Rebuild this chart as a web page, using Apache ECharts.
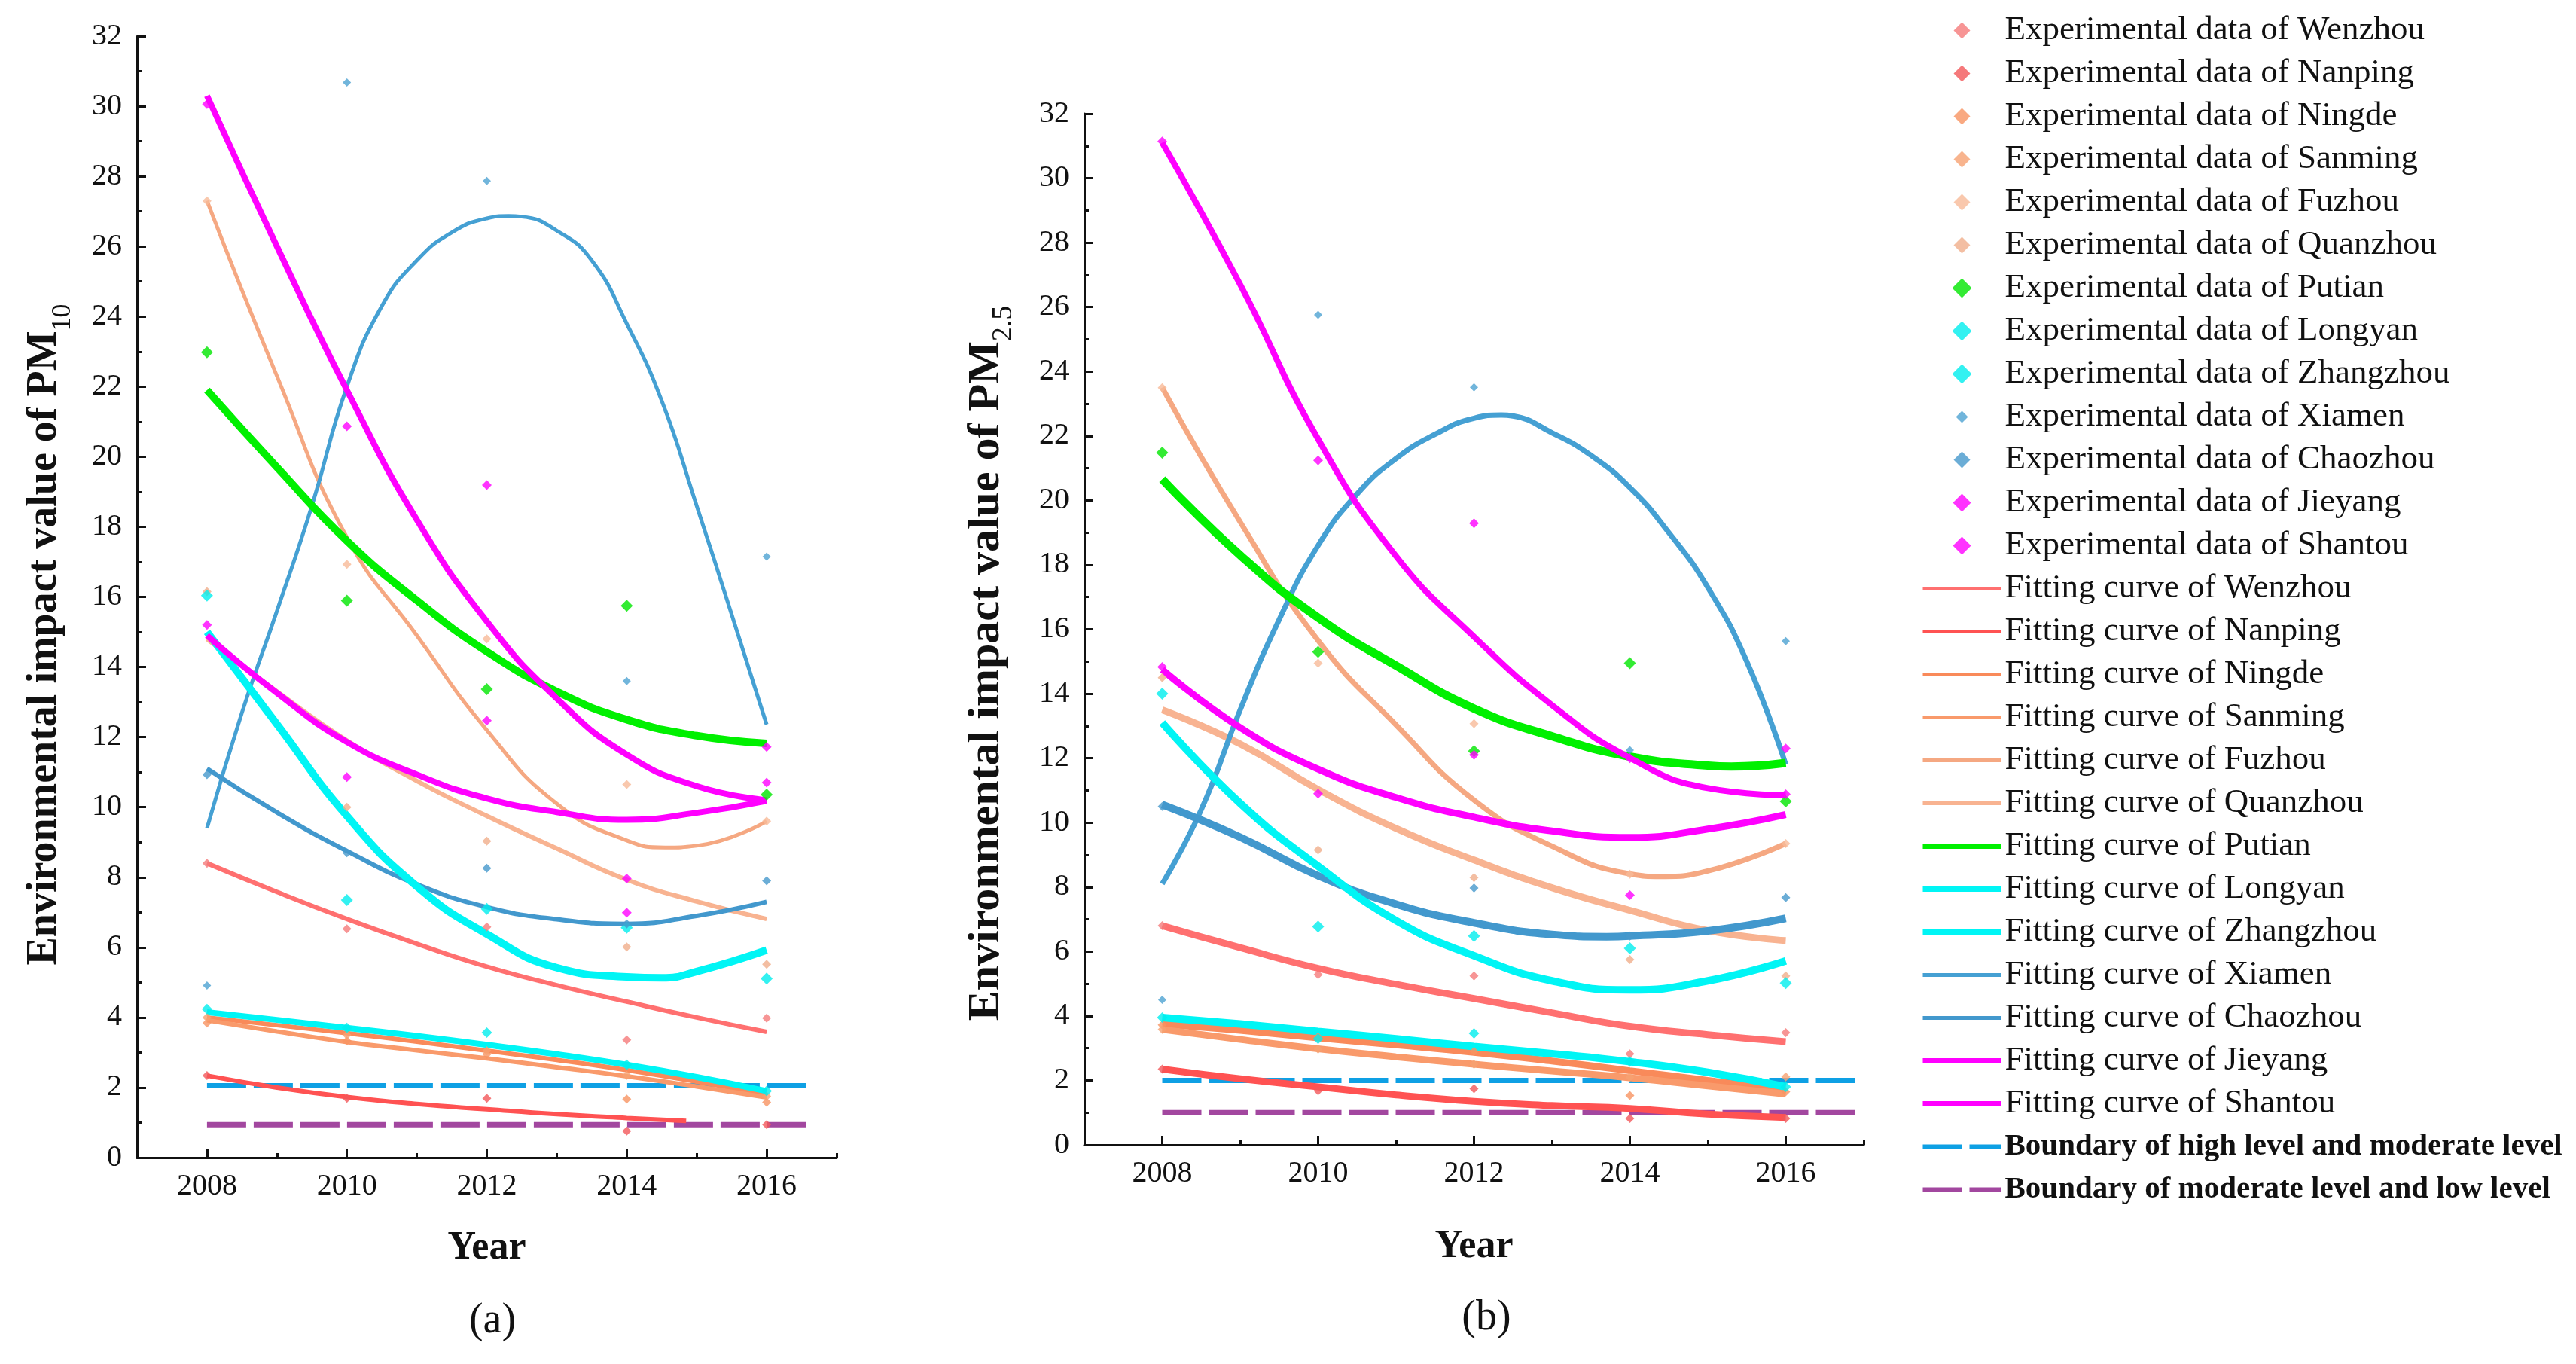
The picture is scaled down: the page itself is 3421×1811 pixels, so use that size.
<!DOCTYPE html>
<html>
<head>
<meta charset="utf-8">
<script src="https://cdn.jsdelivr.net/npm/echarts@6/dist/echarts.min.js"></script>
<style>
html,body{margin:0;padding:0;background:#ffffff;}
#c{width:3421px;height:1811px;}
</style>
</head>
<body>
<div id="c"></div>
<script>
// ---------------- DATA ----------------
const CITIES = ['Wenzhou','Nanping','Ningde','Sanming','Fuzhou','Quanzhou','Putian','Longyan','Zhangzhou','Xiamen','Chaozhou','Jieyang','Shantou'];
const EXP_YEARS = [2008, 2010, 2012, 2014, 2016];
const FIT_YEARS = [2008, 2009, 2010, 2011, 2012, 2013, 2014, 2015, 2016];
const X_TICKS = [2008, 2010, 2012, 2014, 2016];

// (a) PM10 experimental data (2008, 2010, 2012, 2014, 2016)
const pm10ExpWenzhou   = [8.4, 6.53, 6.58, 3.36, 3.98];
const pm10ExpNanping   = [2.34, 1.69, 1.69, 0.76, 0.94];
const pm10ExpNingde    = [3.84, 3.33, 2.95, 1.67, 1.58];
const pm10ExpSanming   = [4.0, 3.5, 3.05, 2.35, 1.75];
const pm10ExpFuzhou    = [27.3, 16.93, 14.8, 10.65, 9.6];
const pm10ExpQuanzhou  = [16.15, 10.0, 9.03, 6.01, 5.52];
const pm10ExpPutian    = [22.98, 15.89, 13.37, 15.75, 10.36];
const pm10ExpLongyan   = [16.04, 7.35, 7.1, 6.56, 5.11];
const pm10ExpZhangzhou = [4.24, 3.7, 3.57, 2.65, 1.9];
const pm10ExpXiamen    = [4.91, 30.68, 27.87, 13.6, 17.15];
const pm10ExpChaozhou  = [10.93, 8.7, 8.26, 6.67, 7.9];
const pm10ExpJieyang   = [30.06, 20.87, 19.19, 7.96, 11.72];
const pm10ExpShantou   = [15.2, 10.86, 12.47, 6.99, 10.7];

// (a) PM10 fitting curves (values at 2008..2016) + extra read points (turning points / ends)
const pm10FitWenzhou   = [8.4, 7.58, 6.81, 6.1, 5.45, 4.92, 4.45, 4.0, 3.59];
const pm10FitNanping   = [2.34, 2.0, 1.73, 1.53, 1.38, 1.24, 1.13, null, null];
const pm10FitNanpingExtra = [[2014.85, 1.05]];
const pm10FitNingde    = [4.0, 3.78, 3.55, 3.31, 3.05, 2.79, 2.5, 2.17, 1.8];
const pm10FitSanming   = [3.92, 3.6, 3.3, 3.06, 2.83, 2.58, 2.32, 2.03, 1.72];
const pm10FitFuzhou    = [27.3, 22.3, 17.7, 14.9, 12.2, 10.1, 9.05, 8.9, 9.6];
const pm10FitFuzhouExtra = [[2014.55, 8.85]];
const pm10FitQuanzhou  = [14.8, 13.3, 11.9, 10.75, 9.75, 8.82, 7.93, 7.31, 6.81];
const pm10FitPutian    = [21.9, 19.7, 17.6, 15.9, 14.44, 13.3, 12.5, 12.04, 11.82];
const pm10FitLongyan   = [15.0, 12.37, 9.75, 7.74, 6.38, 5.42, 5.16, 5.31, 5.92];
const pm10FitLongyanExtra = [[2014.5, 5.13]];
const pm10FitZhangzhou = [4.15, 3.93, 3.7, 3.47, 3.22, 2.95, 2.65, 2.3, 1.9];
const pm10FitXiamen    = [9.4, 15.6, 22.0, 25.6, 26.8, 26.45, 23.8, 18.6, 12.36];
const pm10FitXiamenExtra = [[2008.5, 12.7], [2009.5, 18.6], [2010.5, 24.3], [2011.5, 26.4], [2012.31, 26.87], [2012.5, 26.85], [2013.5, 25.6], [2014.5, 21.6], [2015.5, 15.5]];
const pm10FitChaozhou  = [11.1, 9.85, 8.75, 7.8, 7.15, 6.8, 6.67, 6.9, 7.3];
const pm10FitJieyang   = [30.3, 26.0, 21.9, 18.2, 15.3, 13.1, 11.5, 10.6, 10.2];
const pm10FitShantou   = [14.9, 13.26, 11.86, 10.93, 10.25, 9.86, 9.64, 9.84, 10.18];

// (b) PM2.5 experimental data
const pm25ExpWenzhou   = [6.8, 5.28, 5.24, 2.82, 3.48];
const pm25ExpNanping   = [2.35, 1.68, 1.74, 0.82, 0.82];
const pm25ExpNingde    = [3.72, 3.35, 2.9, 1.53, 1.65];
const pm25ExpSanming   = [3.58, 2.97, 2.5, 2.1, 2.11];
const pm25ExpFuzhou    = [23.5, 14.95, 13.07, 8.4, 9.35];
const pm25ExpQuanzhou  = [14.5, 9.15, 8.29, 5.75, 5.24];
const pm25ExpPutian    = [21.48, 15.3, 12.22, 14.95, 10.66];
const pm25ExpLongyan   = [14.0, 6.77, 6.48, 6.1, 5.02];
const pm25ExpZhangzhou = [3.95, 3.29, 3.46, 2.58, 1.8];
const pm25ExpXiamen    = [4.5, 25.76, 23.51, 12.25, 15.63];
const pm25ExpChaozhou  = [10.5, 8.35, 7.97, 6.48, 7.67];
const pm25ExpJieyang   = [31.14, 21.24, 19.29, 12.0, 12.3];
const pm25ExpShantou   = [14.83, 10.9, 12.1, 7.75, 10.88];

// (b) PM2.5 fitting curves (values at 2008..2016) + extra read points
const pm25FitWenzhou   = [6.8, 6.12, 5.48, 4.98, 4.54, 4.1, 3.68, 3.42, 3.2];
const pm25FitNanping   = [2.35, 2.05, 1.8, 1.55, 1.35, 1.22, 1.13, 0.95, 0.85];
const pm25FitNingde    = [3.75, 3.55, 3.32, 3.1, 2.87, 2.6, 2.3, 2.0, 1.68];
const pm25FitSanming   = [3.58, 3.27, 2.98, 2.73, 2.5, 2.29, 2.08, 1.83, 1.58];
const pm25FitFuzhou    = [23.5, 19.33, 15.65, 13.03, 10.7, 9.27, 8.41, 8.5, 9.35];
const pm25FitFuzhouExtra = [[2014.4, 8.33]];
const pm25FitQuanzhou  = [13.5, 12.44, 11.03, 9.82, 8.84, 7.98, 7.28, 6.65, 6.34];
const pm25FitPutian    = [20.66, 18.3, 16.36, 14.87, 13.54, 12.68, 12.05, 11.77, 11.85];
const pm25FitPutianExtra = [[2015.3, 11.74]];
const pm25FitLongyan   = [13.1, 10.6, 8.65, 6.96, 5.87, 5.09, 4.81, 5.09, 5.71];
const pm25FitZhangzhou = [3.95, 3.75, 3.52, 3.29, 3.05, 2.83, 2.58, 2.25, 1.8];
const pm25FitXiamen    = [8.1, 13.5, 18.6, 21.3, 22.55, 22.1, 20.4, 17.3, 11.8];
const pm25FitXiamenExtra = [[2008.5, 10.4], [2009.5, 16.3], [2010.5, 20.2], [2011.5, 22.05], [2012.35, 22.65], [2012.5, 22.62], [2013.5, 21.4], [2014.5, 19.0], [2015.5, 15.0]];
const pm25FitChaozhou  = [10.56, 9.55, 8.35, 7.47, 6.89, 6.53, 6.48, 6.64, 7.03];
const pm25FitChaozhouExtra = [[2013.7, 6.46]];
const pm25FitJieyang   = [31.1, 26.7, 21.9, 18.27, 15.77, 13.65, 12.01, 11.07, 10.85];
const pm25FitShantou   = [14.75, 12.95, 11.66, 10.78, 10.17, 9.74, 9.54, 9.8, 10.25];

// Boundaries
const pm10BoundaryHigh = 2.05, pm10BoundaryLow = 0.94, pm10BoundaryEnd = 2016.65;
const pm25BoundaryHigh = 2.0,  pm25BoundaryLow = 1.0,  pm25BoundaryEnd = 2016.93;

// ---------------- STYLE ----------------
const POINT_COLORS = ['#F57A7A','#F2585A','#F79462','#F6A172','#F8BA98','#F0AE8B','#00E600','#00EEEE','#00EEEE','#4DA2D2','#4699CC','#FF00FF','#FF00FF'];
const LINE_COLORS  = ['#FF7070','#FF5252','#F98A5A','#F99A6B','#F5A882','#F8B391','#00F000','#00F5F5','#00F5F5','#45A0D3','#4298CD','#FF00FF','#FF00FF'];
const POINT_SIZES  = [12,12,12,12,12,12,16,16,14,11,12,13,13];
const LEGEND_DIAMOND = [11,11,11,11,11,11,13,13,13,8,11,12,12];
const PM10_WIDTHS  = [6,6,6,6,5,6,10,10,8,5,6,8,8];
const PM25_WIDTHS  = [9,9,9,9,7,9,11,10,10,7,10,8,9];
const LEGEND_WIDTHS= [5,5,5,5,5,5,7,7,7,5,5,7,7];
const DRAW_ORDER   = [4,5,2,3,0,1,9,10,6,8,7,11,12];
const FONT = 'Liberation Serif';
const B_HIGH_NAME = 'Boundary of high level and moderate level';
const B_LOW_NAME  = 'Boundary of moderate level and low level';
const LEG_W = 104, LEG_H = 28;

const PM10_EXP = [pm10ExpWenzhou,pm10ExpNanping,pm10ExpNingde,pm10ExpSanming,pm10ExpFuzhou,pm10ExpQuanzhou,pm10ExpPutian,pm10ExpLongyan,pm10ExpZhangzhou,pm10ExpXiamen,pm10ExpChaozhou,pm10ExpJieyang,pm10ExpShantou];
const PM10_FIT = [pm10FitWenzhou,pm10FitNanping,pm10FitNingde,pm10FitSanming,pm10FitFuzhou,pm10FitQuanzhou,pm10FitPutian,pm10FitLongyan,pm10FitZhangzhou,pm10FitXiamen,pm10FitChaozhou,pm10FitJieyang,pm10FitShantou];
const PM25_EXP = [pm25ExpWenzhou,pm25ExpNanping,pm25ExpNingde,pm25ExpSanming,pm25ExpFuzhou,pm25ExpQuanzhou,pm25ExpPutian,pm25ExpLongyan,pm25ExpZhangzhou,pm25ExpXiamen,pm25ExpChaozhou,pm25ExpJieyang,pm25ExpShantou];
const PM25_FIT = [pm25FitWenzhou,pm25FitNanping,pm25FitNingde,pm25FitSanming,pm25FitFuzhou,pm25FitQuanzhou,pm25FitPutian,pm25FitLongyan,pm25FitZhangzhou,pm25FitXiamen,pm25FitChaozhou,pm25FitJieyang,pm25FitShantou];
const PM10_EXTRA = {1: pm10FitNanpingExtra, 4: pm10FitFuzhouExtra, 7: pm10FitLongyanExtra, 9: pm10FitXiamenExtra};
const PM25_EXTRA = {4: pm25FitFuzhouExtra, 6: pm25FitPutianExtra, 9: pm25FitXiamenExtra, 10: pm25FitChaozhouExtra};

function buildSeries(gi, expList, fitList, extras, widths, bHigh, bLow, bEnd) {
  const xi = gi * 2, yi = gi;
  const s = [];
  s.push({type:'line', name:B_HIGH_NAME, xAxisIndex:xi, yAxisIndex:yi, data:[[2008,bHigh],[bEnd,bHigh]],
    symbol:'none', silent:true, z:2, itemStyle:{color:'#0EA0E4'}, lineStyle:{color:'#0EA0E4', width:7, type:[52,10]}});
  s.push({type:'line', name:B_LOW_NAME, xAxisIndex:xi, yAxisIndex:yi, data:[[2008,bLow],[bEnd,bLow]],
    symbol:'none', silent:true, z:2, itemStyle:{color:'#A2479F'}, lineStyle:{color:'#A2479F', width:7, type:[52,10]}});
  DRAW_ORDER.forEach(i => {
    const data = [];
    FIT_YEARS.forEach((x, j) => { if (fitList[i][j] != null) data.push([x, fitList[i][j]]); });
    if (extras[i]) extras[i].forEach(p => data.push(p));
    data.sort((a, b) => a[0] - b[0]);
    s.push({type:'line', name:'Fitting curve of ' + CITIES[i], xAxisIndex:xi, yAxisIndex:yi, data,
      smooth:0.5, symbol:'none', silent:true, z:3,
      itemStyle:{color:LINE_COLORS[i]}, lineStyle:{color:LINE_COLORS[i], width:widths[i]}});
  });
  CITIES.forEach((c, i) => {
    s.push({type:'scatter', name:'Experimental data of ' + c, xAxisIndex:xi, yAxisIndex:yi,
      data: EXP_YEARS.map((x, j) => [x, expList[i][j]]),
      symbol:'diamond', symbolSize:POINT_SIZES[i], symbolKeepAspect:true, silent:true, z:4,
      itemStyle:{color:POINT_COLORS[i]}});
  });
  return s;
}

function xAxes(gi, nameGap) {
  return [
    {type:'value', gridIndex:gi, min:2007, max:2017, interval:1, position:'bottom',
     name:'Year', nameLocation:'middle', nameGap:nameGap,
     nameTextStyle:{fontFamily:FONT, fontSize:52, fontWeight:'bold', color:'#111'},
     axisLine:{show:true, onZero:false, lineStyle:{color:'#111', width:3}},
     axisTick:{show:true, inside:true, length:12, customValues:X_TICKS, lineStyle:{color:'#111', width:3}},
     axisLabel:{show:true, customValues:X_TICKS, margin:18, fontFamily:FONT, fontSize:40, color:'#111',
                formatter: v => String(Math.round(v))},
     splitLine:{show:false}, minorTick:{show:false}},
    {type:'value', gridIndex:gi, min:2007, max:2017, interval:2, position:'bottom',
     axisLine:{show:false, onZero:false},
     axisTick:{show:true, inside:true, length:6, lineStyle:{color:'#111', width:3}},
     axisLabel:{show:false}, splitLine:{show:false}}
  ];
}

function yAxis(gi, sub, nameGap, fontSize, shiftPad) {
  return {type:'value', gridIndex:gi, min:0, max:32, interval:2,
    name:'{m|Environmental impact value of PM}{s|' + sub + '}',
    nameLocation:'middle', nameRotate:90, nameGap:nameGap,
    nameTextStyle:{padding:[0, shiftPad, 0, 0], rich:{
      m:{fontFamily:FONT, fontSize:fontSize, fontWeight:'bold', color:'#111', lineHeight:84, verticalAlign:'middle'},
      s:{fontFamily:FONT, fontSize:Math.round(fontSize*0.64), fontWeight:'normal', color:'#111', lineHeight:36, verticalAlign:'bottom'}
    }},
    axisLine:{show:true, lineStyle:{color:'#111', width:3}},
    axisTick:{show:true, inside:true, length:12, lineStyle:{color:'#111', width:3}},
    minorTick:{show:true, splitNumber:2, length:6, lineStyle:{color:'#111', width:3}},
    axisLabel:{show:true, margin:20, fontFamily:FONT, fontSize:40, color:'#111'},
    splitLine:{show:false}, minorSplitLine:{show:false}};
}

// diamond legend icon with invisible anchors so the icon box keeps its 104x28 size
function diamondIcon(r) {
  const cx = LEG_W / 2, cy = LEG_H / 2;
  return 'path://M0,0 M' + LEG_W + ',' + LEG_H + ' M' + cx + ',' + (cy - r) + ' L' + (cx + r) + ',' + cy +
         ' L' + cx + ',' + (cy + r) + ' L' + (cx - r) + ',' + cy + ' Z';
}

const legendData = [];
CITIES.forEach((c, i) => legendData.push({name:'Experimental data of ' + c, icon:diamondIcon(LEGEND_DIAMOND[i])}));
CITIES.forEach((c, i) => legendData.push({name:'Fitting curve of ' + c, itemStyle:{opacity:0}, lineStyle:{width:LEGEND_WIDTHS[i]}}));
legendData.push({name:B_HIGH_NAME, itemStyle:{opacity:0}, lineStyle:{width:6}, textStyle:{fontWeight:'bold', fontSize:41}});
legendData.push({name:B_LOW_NAME, itemStyle:{opacity:0}, lineStyle:{width:6}, textStyle:{fontWeight:'bold', fontSize:41}});

const option = {
  animation:false,
  backgroundColor:'#ffffff',
  grid:[
    {left:182, top:48, width:929, height:1489, containLabel:false, outerBoundsMode:'none'},
    {left:1440, top:151, width:1035, height:1369, containLabel:false, outerBoundsMode:'none'}
  ],
  xAxis:[...xAxes(0, 95), ...xAxes(1, 110)],
  yAxis:[yAxis(0, '10', 80, 56, 100), yAxis(1, '2.5', 88, 60, 90)],
  legend:{
    orient:'vertical', left:2550, top:12, itemWidth:LEG_W, itemHeight:LEG_H, itemGap:0,
    selectedMode:false, padding:0, symbolKeepAspect:true,
    textStyle:{fontFamily:FONT, fontSize:45, color:'#111', lineHeight:57},
    data:legendData
  },
  graphic:[
    {type:'text', x:654, y:1754, style:{text:'(a)', fontFamily:FONT, fontSize:56, fill:'#111', align:'center', verticalAlign:'middle'}},
    {type:'text', x:1974, y:1750, style:{text:'(b)', fontFamily:FONT, fontSize:56, fill:'#111', align:'center', verticalAlign:'middle'}}
  ],
  series:[
    ...buildSeries(0, PM10_EXP, PM10_FIT, PM10_EXTRA, PM10_WIDTHS, pm10BoundaryHigh, pm10BoundaryLow, pm10BoundaryEnd),
    ...buildSeries(1, PM25_EXP, PM25_FIT, PM25_EXTRA, PM25_WIDTHS, pm25BoundaryHigh, pm25BoundaryLow, pm25BoundaryEnd)
  ]
};

const chart = echarts.init(document.getElementById('c'), null, {renderer:'canvas', width:3421, height:1811});
chart.setOption(option);
</script>
</body>
</html>
